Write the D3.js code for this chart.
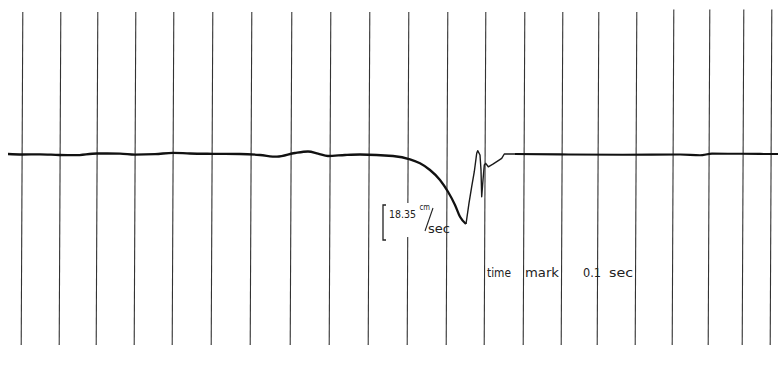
<!DOCTYPE html>
<html>
<head>
<meta charset="utf-8">
<script src="https://cdn.jsdelivr.net/npm/d3@7"></script>
<style>
  body { margin: 0; background: #fff; }
  svg { display: block; }
</style>
</head>
<body>
<div id="wrapper"></div>
<script>
// record position of each 0.1 sec time mark (record units)
var markPos = [22, 60, 97, 135, 173, 212, 251, 291, 330, 369, 408, 447, 485, 524, 562, 598, 636, 673, 709, 743, 771];

// velocity trace: position along record and velocity (cm/sec)
var tracePos = [8, 22, 40, 59, 75, 97, 120, 135, 155, 173, 190, 213, 240, 260, 277, 295, 308, 318, 328, 345, 360,
  393, 410, 420, 430, 440, 448, 455, 460, 466,
  469, 471.7, 474.3, 476.7, 477.7, 480, 481, 481.7, 483, 484.3, 485.7, 488.3, 493.3, 498.3, 501.7, 504.3,
  515, 560, 623, 680, 700, 712, 740, 778];
var traceVel = [0, -0.26, -0.16, -0.52, -0.63, 0.26, 0.21, -0.31, -0.1, 0.63, 0.26, 0.1, 0, -0.52, -1.42, 0.52, 1.31, 0.26, -1.05, -0.52, -0.26,
  -1.05, -2.78, -4.88, -8.39, -13.6, -19.8, -26.7, -32.9, -36.7,
  -25.8, -17.1, -9.3, 0.37, 1.73, -0.52, -8.4, -22.4, -13.6, -5.8, -4.9, -6.7, -5.2, -3.5, -2.3, 0,
  0, -0.2, -0.37, -0.26, -0.68, 0.21, 0.1, 0];

// calibration bar
var calValue = 18.35;
var calLabel = ["18.35", "cm", "sec"];
var markLabel = ["time", "mark", "0.1", "sec"];

var width = 778, height = 374;

var x = d3.scaleLinear().domain([0, 778]).range([0, width]);
// 18.35 cm/sec spans the calibration bracket
var y = d3.scaleLinear().domain([0, -calValue]).range([154, 189]);

var svg = d3.select("#wrapper").append("svg")
    .attr("width", width)
    .attr("height", height);

// time marks
svg.selectAll(".mark")
    .data(markPos)
  .enter().append("line")
    .attr("class", "mark")
    .attr("x1", function(d) { return x(d) + 0.8; })
    .attr("x2", function(d) { return x(d) - 0.8; })
    .attr("y1", function(d, i) { return i >= 17 ? 9.5 : 12; })
    .attr("y2", 345)
    .attr("stroke", "#333")
    .attr("stroke-width", 1.1);

// gap in the mark behind the calibration label
svg.append("rect")
    .attr("x", x(markPos[10]) - 3)
    .attr("y", 203)
    .attr("width", 6)
    .attr("height", 34)
    .attr("fill", "#fff");

var pts = tracePos.map(function(d, i) { return [d, traceVel[i]]; });
var line = d3.line()
    .x(function(d) { return x(d[0]); })
    .y(function(d) { return y(d[1]); });

// smooth part up to the minimum
svg.append("path")
    .datum(pts.slice(0, 30))
    .attr("d", line.curve(d3.curveMonotoneX))
    .attr("fill", "none")
    .attr("stroke", "#111")
    .attr("stroke-width", 2.3)
    .attr("stroke-linejoin", "round");

// jagged recovery
svg.append("path")
    .datum(pts.slice(29, 47))
    .attr("d", line.curve(d3.curveLinear))
    .attr("fill", "none")
    .attr("stroke", "#1a1a1a")
    .attr("stroke-width", 1.4)
    .attr("stroke-linejoin", "round");

// flat tail
svg.append("path")
    .datum(pts.slice(46))
    .attr("d", line.curve(d3.curveMonotoneX))
    .attr("fill", "none")
    .attr("stroke", "#111")
    .attr("stroke-width", 2.1);

// calibration bracket, length = 18.35 cm/sec on the y scale
var bx = 383, bTop = 205;
var bLen = y(-calValue) - y(0);
svg.append("path")
    .attr("d", "M" + (bx + 3) + "," + bTop + "H" + bx + "V" + (bTop + bLen) + "H" + (bx + 3))
    .attr("fill", "none")
    .attr("stroke", "#222")
    .attr("stroke-width", 1.3);

function label(t, px, py, size, len) {
  svg.append("text")
    .attr("x", px).attr("y", py)
    .attr("font-family", "DejaVu Sans")
    .attr("font-size", size + "px")
    .attr("fill", "#222")
    .attr("textLength", len)
    .attr("lengthAdjust", "spacingAndGlyphs")
    .text(t);
}

label(calLabel[0], 389, 218, 10.5, 27);
label(calLabel[1], 419.5, 210, 9, 10.5);
svg.append("line")
    .attr("x1", 433).attr("y1", 208)
    .attr("x2", 425).attr("y2", 231)
    .attr("stroke", "#222")
    .attr("stroke-width", 1.1);
label(calLabel[2], 428, 233, 12, 22);

// time mark label
label(markLabel[0], 487, 277, 12, 24);
label(markLabel[1], 525, 277, 12, 34);
label(markLabel[2], 583, 277, 12, 18);
label(markLabel[3], 609, 277, 12, 24);
</script>
</body>
</html>
